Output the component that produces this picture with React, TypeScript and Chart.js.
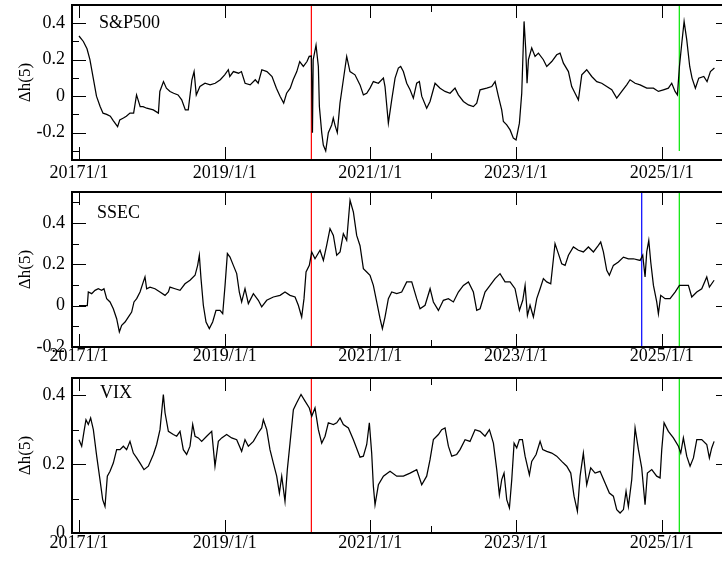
import React, { useEffect, useRef } from "react";
import { Chart, registerables } from "chart.js";

Chart.register(...registerables);

const FONT = "'Liberation Serif', 'Times New Roman', serif";

// ---------- S&P500 ----------
const spxDates = [
  2017.0, 2017.06, 2017.11, 2017.15, 2017.2, 2017.24, 2017.29, 2017.33, 2017.38, 2017.43,
  2017.47, 2017.53, 2017.56, 2017.61, 2017.65, 2017.7, 2017.75, 2017.79, 2017.84, 2017.88,
  2017.93, 2018.02, 2018.09, 2018.11, 2018.16, 2018.2, 2018.25, 2018.3, 2018.36, 2018.41,
  2018.46, 2018.5, 2018.55, 2018.58, 2018.61, 2018.66, 2018.73, 2018.8, 2018.87, 2018.94,
  2019.0, 2019.05, 2019.07, 2019.12, 2019.19, 2019.23, 2019.28, 2019.35, 2019.42, 2019.46,
  2019.51, 2019.58, 2019.65, 2019.71, 2019.76, 2019.81, 2019.85, 2019.9, 2019.94, 2019.99,
  2020.03, 2020.08, 2020.13, 2020.16, 2020.19, 2020.205, 2020.215, 2020.254, 2020.286, 2020.3,
  2020.332, 2020.354, 2020.387, 2020.423, 2020.469, 2020.491, 2020.515, 2020.546, 2020.583, 2020.629,
  2020.675, 2020.72, 2020.789, 2020.858, 2020.904, 2020.95, 2020.995, 2021.041, 2021.11, 2021.179,
  2021.201, 2021.247, 2021.293, 2021.339, 2021.384, 2021.416, 2021.453, 2021.499, 2021.545, 2021.59,
  2021.636, 2021.673, 2021.705, 2021.773, 2021.819, 2021.888, 2021.957, 2022.025, 2022.094, 2022.162,
  2022.208, 2022.277, 2022.346, 2022.414, 2022.46, 2022.506, 2022.597, 2022.666, 2022.712, 2022.757,
  2022.803, 2022.826, 2022.872, 2022.918, 2022.963, 2023.0, 2023.046, 2023.078, 2023.11, 2023.133,
  2023.151, 2023.17, 2023.215, 2023.261, 2023.307, 2023.375, 2023.421, 2023.49, 2023.558, 2023.604,
  2023.65, 2023.719, 2023.764, 2023.81, 2023.856, 2023.902, 2023.97, 2024.039, 2024.108, 2024.176,
  2024.245, 2024.314, 2024.382, 2024.451, 2024.519, 2024.565, 2024.634, 2024.703, 2024.794, 2024.886,
  2024.954, 2025.023, 2025.091, 2025.137, 2025.183, 2025.215, 2025.243, 2025.275, 2025.307, 2025.343,
  2025.384, 2025.416, 2025.462, 2025.508, 2025.577, 2025.622, 2025.668, 2025.723,
];
const spxValues = [
  0.33, 0.3, 0.26, 0.2, 0.09, 0.0, -0.057, -0.093, -0.1, -0.11,
  -0.134, -0.167, -0.13, -0.12, -0.11, -0.093, -0.093, 0.007, -0.057, -0.057,
  -0.066, -0.075, -0.093, 0.026, 0.08, 0.044, 0.026, 0.016, 0.007, -0.02,
  -0.075, -0.075, 0.09, 0.135, 0.007, 0.053, 0.071, 0.062, 0.071, 0.09,
  0.117, 0.145, 0.108, 0.135, 0.126, 0.135, 0.071, 0.062, 0.09, 0.071,
  0.145, 0.135, 0.108, 0.044, 0.0, -0.038, 0.016, 0.044, 0.09, 0.135,
  0.19, 0.163, 0.19, 0.218, 0.22, -0.2, 0.2, 0.28, 0.163, -0.057,
  -0.2, -0.268, -0.3, -0.2, -0.158, -0.12, -0.16, -0.2, -0.038, 0.09,
  0.218, 0.135, 0.117, 0.062, 0.007, 0.016, 0.044, 0.08, 0.071, 0.099,
  0.053, -0.148, -0.02, 0.099, 0.154, 0.163, 0.135, 0.071, 0.035, -0.011,
  0.071, 0.08, 0.0, -0.066, -0.029, 0.071, 0.044, 0.026, 0.016, 0.044,
  0.007, -0.029, -0.048, -0.057, -0.038, 0.035, 0.044, 0.053, 0.08, 0.0,
  -0.075, -0.139, -0.157, -0.185, -0.23, -0.24, -0.148, 0.016, 0.41, 0.255,
  0.071, 0.2, 0.264, 0.218, 0.236, 0.2, 0.163, 0.19, 0.227, 0.236,
  0.181, 0.135, 0.053, 0.016, -0.02, 0.117, 0.145, 0.108, 0.08, 0.071,
  0.053, 0.035, -0.011, 0.026, 0.062, 0.09, 0.071, 0.062, 0.044, 0.044,
  0.026, 0.035, 0.044, 0.071, 0.026, 0.007, 0.163, 0.29, 0.41, 0.31,
  0.163, 0.099, 0.044, 0.099, 0.108, 0.08, 0.135, 0.154,
];

// ---------- SSEC ----------
const ssecDates = [
  2017.0, 2017.114, 2017.128, 2017.174, 2017.22, 2017.265, 2017.311, 2017.343, 2017.38, 2017.426,
  2017.471, 2017.517, 2017.554, 2017.586, 2017.632, 2017.677, 2017.723, 2017.755, 2017.792, 2017.838,
  2017.883, 2017.906, 2017.929, 2017.975, 2018.043, 2018.112, 2018.181, 2018.227, 2018.249, 2018.318,
  2018.387, 2018.455, 2018.524, 2018.593, 2018.629, 2018.652, 2018.675, 2018.707, 2018.744, 2018.789,
  2018.835, 2018.881, 2018.936, 2018.973, 2019.005, 2019.037, 2019.073, 2019.119, 2019.165, 2019.201,
  2019.233, 2019.279, 2019.325, 2019.394, 2019.462, 2019.508, 2019.577, 2019.668, 2019.76, 2019.828,
  2019.897, 2019.966, 2020.011, 2020.057, 2020.089, 2020.117, 2020.162, 2020.195, 2020.24, 2020.309,
  2020.355, 2020.4, 2020.446, 2020.492, 2020.538, 2020.584, 2020.629, 2020.675, 2020.721, 2020.767,
  2020.812, 2020.858, 2020.904, 2020.95, 2020.995, 2021.041, 2021.087, 2021.133, 2021.165, 2021.201,
  2021.247, 2021.293, 2021.362, 2021.43, 2021.499, 2021.568, 2021.636, 2021.682, 2021.751, 2021.82,
  2021.865, 2021.934, 2022.002, 2022.071, 2022.14, 2022.208, 2022.277, 2022.346, 2022.414, 2022.46,
  2022.506, 2022.574, 2022.643, 2022.712, 2022.78, 2022.849, 2022.918, 2022.986, 2023.046, 2023.092,
  2023.124, 2023.156, 2023.192, 2023.238, 2023.284, 2023.33, 2023.375, 2023.421, 2023.476, 2023.513,
  2023.535, 2023.581, 2023.627, 2023.673, 2023.719, 2023.787, 2023.856, 2023.924, 2023.993, 2024.062,
  2024.13, 2024.162, 2024.199, 2024.245, 2024.281, 2024.336, 2024.405, 2024.474, 2024.542, 2024.611,
  2024.703, 2024.739, 2024.771, 2024.794, 2024.822, 2024.849, 2024.886, 2024.931, 2024.954, 2024.986,
  2025.046, 2025.114, 2025.183, 2025.243, 2025.297, 2025.366, 2025.412, 2025.481, 2025.549, 2025.618,
  2025.654, 2025.719,
];
const ssecValues = [
  0.0, 0.0, 0.066, 0.058, 0.074, 0.082, 0.074, 0.082, 0.034, 0.018,
  -0.015, -0.063, -0.127, -0.095, -0.079, -0.055, -0.031, 0.018, 0.034, 0.066,
  0.115, 0.139, 0.082, 0.09, 0.082, 0.066, 0.05, 0.066, 0.09, 0.082,
  0.074, 0.106, 0.123, 0.147, 0.195, 0.244, 0.131, 0.002, -0.079, -0.111,
  -0.079, -0.023, -0.023, -0.039, 0.098, 0.252, 0.235, 0.195, 0.155, 0.066,
  0.018, 0.082, 0.01, 0.058, 0.026, -0.006, 0.026, 0.042, 0.05, 0.066,
  0.05, 0.042, 0.002, -0.055, 0.034, 0.163, 0.195, 0.26, 0.227, 0.268,
  0.219, 0.292, 0.373, 0.34, 0.244, 0.26, 0.348, 0.316, 0.51, 0.453,
  0.34, 0.29, 0.179, 0.163, 0.147, 0.098, 0.018, -0.063, -0.111, -0.055,
  0.034, 0.066, 0.058, 0.066, 0.115, 0.115, 0.034, -0.015, 0.002, 0.082,
  0.018, -0.023, 0.026, 0.034, 0.018, 0.066, 0.098, 0.115, 0.066, -0.023,
  -0.015, 0.066, 0.098, 0.131, 0.155, 0.115, 0.115, 0.082, -0.023, 0.026,
  0.098, -0.047, 0.002, -0.055, 0.034, 0.082, 0.131, 0.115, 0.106, 0.227,
  0.3, 0.252, 0.203, 0.195, 0.244, 0.284, 0.268, 0.26, 0.284, 0.26,
  0.292, 0.308, 0.26, 0.171, 0.147, 0.195, 0.211, 0.235, 0.227, 0.227,
  0.219, 0.244, 0.139, 0.26, 0.316, 0.211, 0.098, 0.018, -0.039, 0.05,
  0.034, 0.034, 0.066, 0.098, 0.098, 0.098, 0.042, 0.066, 0.082, 0.139,
  0.09, 0.123,
];

// ---------- VIX ----------
const vixDates = [
  2017.0, 2017.037, 2017.069, 2017.096, 2017.128, 2017.16, 2017.197, 2017.243, 2017.288, 2017.325,
  2017.357, 2017.389, 2017.426, 2017.471, 2017.517, 2017.563, 2017.609, 2017.654, 2017.7, 2017.746,
  2017.792, 2017.838, 2017.892, 2017.952, 2018.021, 2018.066, 2018.112, 2018.158, 2018.181, 2018.227,
  2018.295, 2018.341, 2018.387, 2018.432, 2018.478, 2018.524, 2018.561, 2018.593, 2018.638, 2018.684,
  2018.753, 2018.822, 2018.867, 2018.913, 2018.959, 2019.027, 2019.096, 2019.165, 2019.233, 2019.279,
  2019.325, 2019.394, 2019.462, 2019.508, 2019.531, 2019.577, 2019.622, 2019.668, 2019.714, 2019.751,
  2019.783, 2019.828, 2019.86, 2019.897, 2019.943, 2019.989, 2020.048, 2020.103, 2020.162, 2020.195,
  2020.24, 2020.286, 2020.332, 2020.378, 2020.423, 2020.492, 2020.538, 2020.584, 2020.629, 2020.698,
  2020.767, 2020.858, 2020.904, 2020.95, 2020.986, 2021.018, 2021.041, 2021.064, 2021.11, 2021.179,
  2021.27, 2021.362, 2021.453, 2021.545, 2021.636, 2021.705, 2021.773, 2021.819, 2021.865, 2021.934,
  2021.979, 2022.025, 2022.071, 2022.117, 2022.185, 2022.231, 2022.3, 2022.368, 2022.437, 2022.506,
  2022.574, 2022.634, 2022.689, 2022.735, 2022.771, 2022.803, 2022.835, 2022.872, 2022.909, 2022.941,
  2022.973, 2023.009, 2023.046, 2023.087, 2023.124, 2023.183, 2023.215, 2023.275, 2023.33, 2023.366,
  2023.421, 2023.49, 2023.558, 2023.627, 2023.696, 2023.751, 2023.796, 2023.842, 2023.879, 2023.924,
  2023.97, 2024.025, 2024.085, 2024.153, 2024.222, 2024.281, 2024.336, 2024.382, 2024.428, 2024.474,
  2024.51, 2024.542, 2024.588, 2024.634, 2024.68, 2024.725, 2024.771, 2024.803, 2024.863, 2024.931,
  2024.977, 2025.0, 2025.032, 2025.091, 2025.16, 2025.229, 2025.261, 2025.297, 2025.343, 2025.389,
  2025.435, 2025.481, 2025.549, 2025.618, 2025.654, 2025.686, 2025.719,
];
const vixValues = [
  0.271, 0.252, 0.295, 0.329, 0.315, 0.334, 0.3, 0.223, 0.155, 0.097,
  0.077, 0.165, 0.179, 0.203, 0.242, 0.242, 0.252, 0.242, 0.266, 0.232,
  0.218, 0.203, 0.184, 0.194, 0.228, 0.257, 0.3, 0.402, 0.349, 0.295,
  0.286, 0.281, 0.295, 0.242, 0.228, 0.252, 0.315, 0.281, 0.276, 0.266,
  0.281, 0.295, 0.194, 0.266, 0.276, 0.286, 0.276, 0.271, 0.237, 0.271,
  0.252, 0.266, 0.291, 0.305, 0.329, 0.3, 0.242, 0.203, 0.165, 0.116,
  0.165, 0.092, 0.184, 0.261, 0.358, 0.378, 0.402, 0.383, 0.363, 0.339,
  0.363, 0.3, 0.261, 0.281, 0.32, 0.315, 0.32, 0.334, 0.315, 0.305,
  0.271, 0.22, 0.223, 0.257, 0.32, 0.232, 0.136, 0.082, 0.14, 0.165,
  0.179, 0.165, 0.165, 0.174, 0.184, 0.14, 0.165, 0.213, 0.271, 0.286,
  0.3, 0.305, 0.252, 0.223, 0.228, 0.242, 0.271, 0.266, 0.3, 0.295,
  0.281, 0.3, 0.261, 0.184, 0.111, 0.155, 0.174, 0.097, 0.073, 0.155,
  0.261, 0.247, 0.271, 0.271, 0.223, 0.169, 0.208, 0.228, 0.266, 0.242,
  0.237, 0.232, 0.223, 0.208, 0.194, 0.174, 0.107, 0.063, 0.165, 0.232,
  0.14, 0.189, 0.174, 0.179, 0.145, 0.116, 0.107, 0.068, 0.058, 0.068,
  0.121, 0.077, 0.155, 0.305, 0.242, 0.189, 0.082, 0.174, 0.184, 0.165,
  0.16, 0.242, 0.32, 0.295, 0.276, 0.252, 0.232, 0.276, 0.223, 0.194,
  0.218, 0.271, 0.271, 0.257, 0.218, 0.247, 0.266,
];

// ---------- axes / events ----------
const X_MIN = 2016.904;
const X_MAX = 2025.937;
const xTickValues = [2017, 2019, 2021, 2023, 2025];
const xTickLabels = ["20171/1", "2019/1/1", "2021/1/1", "2023/1/1", "2025/1/1"];
const xMinorTicks = [2021.83];

const redEventX = 2020.19;
const blueEventX = 2024.725;
const greenEventX = 2025.241;

const spxYTicks = [-0.2, 0, 0.2, 0.4];
const spxYMinor = [-0.3, -0.1, 0.1, 0.3];
const ssecYTicks = [-0.2, 0, 0.2, 0.4];
const ssecYMinor = [-0.1, 0.1, 0.3, 0.5];
const vixYTicks = [0, 0.2, 0.4];
const vixYMinor = [0.1, 0.3];

const RED = "#ff0000";
const GREEN = "#00e600";
const BLUE = "#0000ff";

type EventLine = { x: number; color: string; from?: number; to?: number };
type PanelCfg = {
  title: string;
  dates: number[];
  values: number[];
  yMin: number;
  yMax: number;
  yTicks: number[];
  yMinor: number[];
  events: EventLine[];
  titleDx: number;
  titleDy: number;
  labelPad: number;
};

const panels: PanelCfg[] = [
  {
    title: "S&P500", dates: spxDates, values: spxValues, yMin: -0.35, yMax: 0.5,
    yTicks: spxYTicks, yMinor: spxYMinor,
    events: [{ x: redEventX, color: RED }, { x: greenEventX, color: GREEN, from: -0.3 }],
    titleDx: 27, titleDy: 18.5, labelPad: 2.5,
  },
  {
    title: "SSEC", dates: ssecDates, values: ssecValues, yMin: -0.2, yMax: 0.55,
    yTicks: ssecYTicks, yMinor: ssecYMinor,
    events: [{ x: redEventX, color: RED }, { x: blueEventX, color: BLUE }, { x: greenEventX, color: GREEN }],
    titleDx: 25, titleDy: 21.5, labelPad: -1.5,
  },
  {
    title: "VIX", dates: vixDates, values: vixValues, yMin: 0, yMax: 0.45,
    yTicks: vixYTicks, yMinor: vixYMinor,
    events: [{ x: redEventX, color: RED }, { x: greenEventX, color: GREEN }],
    titleDx: 28, titleDy: 15, labelPad: -1,
  },
];

const decorPlugin = {
  id: "panelDecor",
  afterDatasetsDraw(chart: any, _args: any, opts: any) {
    const { ctx, chartArea: a, scales } = chart;
    const xs = scales.x;
    const ys = scales.y;
    ctx.save();
    ctx.strokeStyle = "#000";
    ctx.lineWidth = 1;
    const seg = (x1: number, y1: number, x2: number, y2: number) => {
      ctx.beginPath();
      ctx.moveTo(x1, y1);
      ctx.lineTo(x2, y2);
      ctx.stroke();
    };
    const xt = (v: number, len: number) => {
      const px = Math.round(xs.getPixelForValue(v)) + 0.5;
      seg(px, a.top, px, a.top + len);
      seg(px, a.bottom, px, a.bottom - len);
    };
    const yt = (v: number, len: number) => {
      const py = Math.round(ys.getPixelForValue(v)) + 0.5;
      seg(a.left, py, a.left + len, py);
      seg(a.right, py, a.right - len, py);
    };
    xs.ticks.forEach((t: any) => xt(t.value, 13));
    (opts.xMinor || []).forEach((v: number) => xt(v, 7));
    ys.ticks.forEach((t: any) => yt(t.value, 14));
    (opts.yMinor || []).forEach((v: number) => yt(v, 7));
    ctx.lineWidth = 2;
    ctx.strokeRect(a.left, a.top, a.right - a.left, a.bottom - a.top);
    ctx.fillStyle = "#000";
    ctx.font = `18px ${FONT}`;
    ctx.textBaseline = "middle";
    ctx.textAlign = "left";
    ctx.fillText(opts.title, a.left + opts.titleDx, a.top + opts.titleDy);
    ctx.restore();
  },
};

function Panel({ cfg, top }: { cfg: PanelCfg; top: number }) {
  const ref = useRef<HTMLCanvasElement>(null);
  useEffect(() => {
    if (!ref.current) return;
    const series = cfg.dates.map((d, i) => ({ x: d, y: cfg.values[i] }));
    const datasets: any[] = [
      {
        data: series,
        borderColor: "#000",
        borderWidth: 1.25,
        pointRadius: 0,
        tension: 0,
        order: 0,
      },
    ];
    cfg.events.forEach((ev) => {
      datasets.push({
        data: [
          { x: ev.x, y: ev.from ?? cfg.yMin },
          { x: ev.x, y: ev.to ?? cfg.yMax },
        ],
        borderColor: ev.color,
        borderWidth: 1.2,
        pointRadius: 0,
        order: 1,
      });
    });
    const chart = new Chart(ref.current, {
      type: "line",
      data: { datasets },
      options: {
        animation: false,
        responsive: false,
        events: [],
        layout: { padding: { top: 5, left: 0, right: 0, bottom: 0 } },
        plugins: {
          legend: { display: false },
          tooltip: { enabled: false },
          panelDecor: {
            title: cfg.title,
            titleDx: cfg.titleDx,
            titleDy: cfg.titleDy,
            xMinor: xMinorTicks,
            yMinor: cfg.yMinor,
          },
        } as any,
        scales: {
          x: {
            type: "linear",
            min: X_MIN,
            max: X_MAX,
            grid: { display: false, drawTicks: false },
            border: { display: false },
            afterBuildTicks: (s: any) => {
              s.ticks = xTickValues.map((v) => ({ value: v }));
            },
            afterFit: (s: any) => {
              s.height = 27;
              s.paddingLeft = 0;
              s.paddingRight = 0;
            },
            ticks: {
              autoSkip: false,
              maxRotation: 0,
              minRotation: 0,
              padding: cfg.labelPad,
              color: "#000",
              font: { family: FONT, size: 18 },
              callback: (_v: any, i: number) => xTickLabels[i],
            },
          },
          y: {
            type: "linear",
            min: cfg.yMin,
            max: cfg.yMax,
            grid: { display: false, drawTicks: false },
            border: { display: false },
            afterBuildTicks: (s: any) => {
              s.ticks = cfg.yTicks.map((v) => ({ value: v }));
            },
            afterFit: (s: any) => {
              s.width = 72;
              s.paddingTop = 0;
              s.paddingBottom = 0;
            },
            ticks: {
              padding: 7,
              color: "#000",
              font: { family: FONT, size: 18 },
              callback: (v: any) => (v === 0 ? "0" : Number(v).toFixed(1)),
            },
            title: {
              display: true,
              text: "Δh(5)",
              color: "#000",
              font: { family: FONT, size: 17 },
              padding: { top: 15, bottom: 0 },
            },
          },
        },
      } as any,
      plugins: [decorPlugin],
    });
    return () => chart.destroy();
  }, [cfg]);
  return (
    <canvas
      ref={ref}
      width={730}
      height={187}
      style={{ position: "absolute", left: 0, top, width: 730, height: 187 }}
    />
  );
}

export default function App() {
  const tops = [0, 187, 373];
  return (
    <div
      style={{
        position: "fixed",
        left: 0,
        top: 0,
        width: 722,
        height: 561,
        overflow: "hidden",
        background: "#fff",
      }}
    >
      {panels.map((p, i) => (
        <Panel key={p.title} cfg={p} top={tops[i]} />
      ))}
    </div>
  );
}
